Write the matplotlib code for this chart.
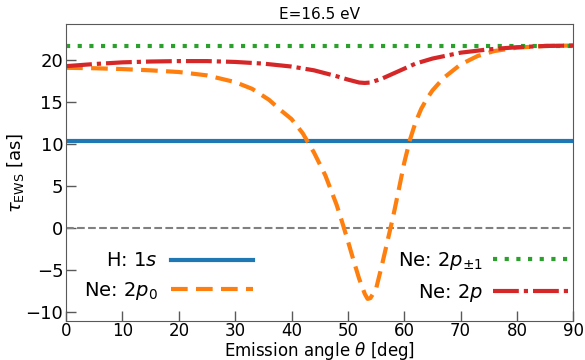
import matplotlib
matplotlib.use('Agg')
import matplotlib.pyplot as plt

# values
theta_p0 = [0, 5, 10, 15, 20, 25, 30, 33, 36, 38, 40, 42, 44, 46, 48, 49, 50, 51, 52,
            53, 53.5, 54, 55, 56, 57, 58, 59, 60, 61, 62, 63, 64, 65, 67, 70, 73, 76,
            80, 85, 90]
tau_p0 = [19.1, 19.05, 18.95, 18.8, 18.6, 18.2, 17.4, 16.6, 15.3, 14.1, 13.0, 11.3, 9.0,
          6.3, 2.8, 0.7, -1.5, -3.8, -6.0, -7.8, -8.4, -8.3, -7.2, -4.5, -1.6, 1.3, 4.5,
          7.8, 10.5, 12.6, 14.2, 15.4, 16.4, 17.9, 19.5, 20.5, 21.1, 21.5, 21.7, 21.75]

theta_p = [0, 5, 10, 15, 20, 25, 30, 35, 40, 44, 48, 50, 52, 53, 54, 56, 58, 60, 62,
           65, 70, 75, 80, 85, 90]
tau_p = [19.3, 19.55, 19.75, 19.85, 19.9, 19.9, 19.8, 19.6, 19.25, 18.8, 18.1, 17.7,
         17.35, 17.3, 17.35, 17.8, 18.4, 19.0, 19.6, 20.2, 20.9, 21.3, 21.55, 21.7, 21.75]

theta_flat = [0, 90]
tau_h1s = [10.4, 10.4]
tau_pm1 = [21.75, 21.75]

fig = plt.figure(figsize=(5.85, 3.6), dpi=100)
ax = fig.add_axes([0.113, 0.109, 0.867, 0.824])

ax.axhline(0, color='grey', ls='--', lw=1.5)
l1, = ax.plot(theta_flat, tau_h1s, color='tab:blue', lw=3, label=r'H: $1s$')
l2, = ax.plot(theta_p0, tau_p0, color='tab:orange', lw=3, ls=(0, (4, 2)), label=r'Ne: $2p_0$')
l3, = ax.plot(theta_flat, tau_pm1, color='tab:green', lw=3, ls=(0, (1, 1.8)), label=r'Ne: $2p_{\pm1}$')
l4, = ax.plot(theta_p, tau_p, color='tab:red', lw=3, ls=(0, (6.2, 1.2, 1, 1.2)), label=r'Ne: $2p$')

ax.set_xlim(0, 90)
ax.set_ylim(-11, 24.3)
ax.set_xticks(range(0, 91, 10))
ax.set_yticks(range(-10, 21, 5))
ax.tick_params(direction='in', length=7, width=1, labelsize=13, color='0.35')
ax.tick_params(axis='x', pad=1, labelsize=12)
ax.tick_params(axis='y', pad=2)
for s in ax.spines.values():
    s.set_color('0.35')

ax.set_xlabel(r'Emission angle $\theta$ [deg]', fontsize=12, labelpad=0)
ax.set_ylabel(r'$\tau_{\rm EWS}$ [as]', fontsize=13, labelpad=0)
ax.set_title('E=16.5 eV', fontsize=11, pad=4)

leg1 = ax.legend(handles=[l1, l2], loc='center left', bbox_to_anchor=(0.0, 0.148),
                 frameon=False, markerfirst=False, fontsize=14, handlelength=4.2,
                 labelspacing=0.5, handletextpad=0.7)
ax.add_artist(leg1)
ax.legend(handles=[l3, l4], loc='center right', bbox_to_anchor=(1.01, 0.148),
          frameon=False, markerfirst=False, fontsize=14, handlelength=4.0,
          labelspacing=0.5, handletextpad=0.5, borderaxespad=0)

fig.savefig('out.png', dpi=100)
